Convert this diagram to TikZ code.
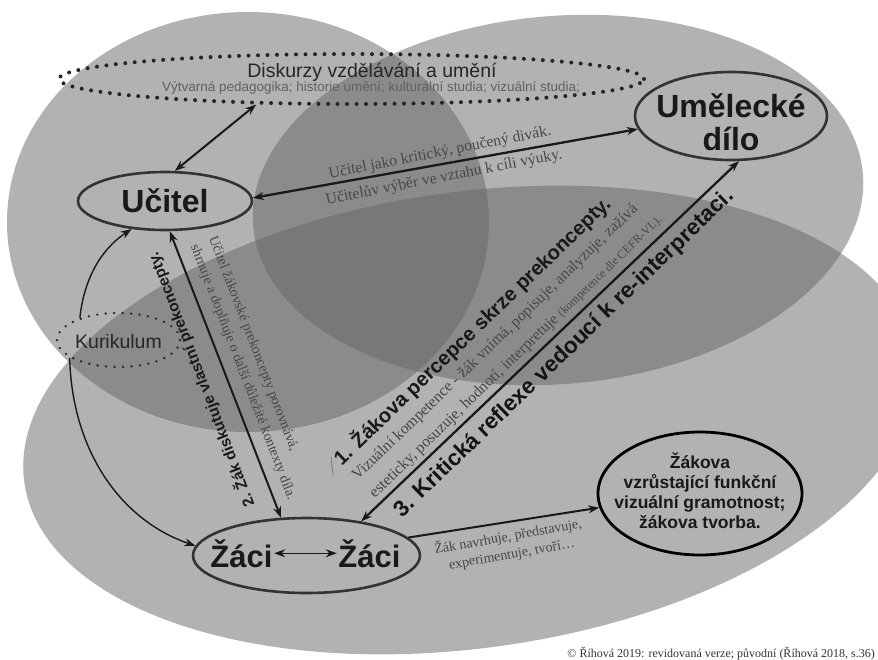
\documentclass[tikz,border=0pt]{standalone}
\usepackage{fontspec}
\setmainfont{Liberation Serif}
\setsansfont{Liberation Sans}
\usetikzlibrary{arrows.meta,shapes.geometric}
\begin{document}
\begin{tikzpicture}[x=1pt,y=-1pt,
  blob/.style={fill=black!60, fill opacity=0.5},
  nodeell/.style={ellipse, draw=black!80, line width=2.6pt, inner sep=0pt},
  dotell/.style={ellipse, draw=black!85, inner sep=0pt, line cap=round, dash pattern=on 0pt off 9.5pt, line width=4pt},
  txt/.style={inner sep=0pt},
  sansbig/.style={txt, anchor=base, text=black!90, font=\sffamily\bfseries\fontsize{32}{32}\selectfont},
  sansmid/.style={txt, anchor=base, text=black!90, font=\sffamily\bfseries\fontsize{17.5}{18}\selectfont},
  serl/.style={txt, text=black!72},
  con/.style={draw=black!90, line width=2pt},
  thincon/.style={draw=black!90, line width=1.4pt},
  onehead/.style={-{Stealth[length=11pt,width=8pt]}},
  twohead/.style={{Stealth[length=11pt,width=8pt]}-{Stealth[length=11pt,width=8pt]}}
]
\useasboundingbox (0,0) rectangle (878,659);
\begin{scope}
  \clip (0,0) rectangle (878,659);
  \fill[white] (0,0) rectangle (878,659);
  \begin{scope}[shift={(248,222)}]
    \fill[blob] (0,0) ellipse [x radius=241pt, y radius=210pt];
  \end{scope}
  \begin{scope}[shift={(558,200)}, rotate=5]
    \fill[blob] (0,0) ellipse [x radius=306pt, y radius=184pt];
  \end{scope}
  \begin{scope}[shift={(470,420)}, rotate=8]
    \fill[blob] (0,0) ellipse [x radius=450pt, y radius=228pt];
  \end{scope}
\end{scope}

% node outlines
\node[dotell, minimum width=585pt, minimum height=50pt] (disk) at (351.5,79) {};
\node[dotell, line width=2.6pt, dash pattern=on 0pt off 8.5pt, minimum width=123pt, minimum height=54pt] (kur) at (118.5,340) {};
\node[nodeell, minimum width=174pt, minimum height=58pt] (ucitel) at (165,201) {};
\node[nodeell, minimum width=192pt, minimum height=88pt] (umel) at (731,116) {};
\node[nodeell, minimum width=227pt, minimum height=75pt] (zaci) at (306.5,555.5) {};
\node[nodeell, draw=black, line width=2.8pt, minimum width=204pt, minimum height=123pt] (zakova) at (700,493.5) {};

% node texts
\node[txt, anchor=base, text=black!85, font=\sffamily\fontsize{19.5}{20}\selectfont] (tdisk1) at (372,77) {Diskurzy vzdělávání a umění};
\node[txt, anchor=base, text=black!62, font=\sffamily\fontsize{13.5}{14}\selectfont] (tdisk2) at (371,91) {Výtvarná pedagogika; historie umění; kulturální studia; vizuální studia;};
\node[txt, anchor=base, text=black!85, font=\sffamily\fontsize{19.5}{20}\selectfont] (tkur) at (118.5,348) {Kurikulum};
\node[sansbig] (tucitel) at (165,212) {Učitel};
\node[sansbig] (tumel1) at (731,117) {Umělecké};
\node[sansbig] (tumel2) at (731,150) {dílo};
\node[sansbig, font=\sffamily\bfseries\fontsize{31}{31}\selectfont, inner sep=1.5pt] (zaci1) at (241.5,567) {Žáci};
\node[sansbig, font=\sffamily\bfseries\fontsize{31}{31}\selectfont, inner sep=1.5pt] (zaci2) at (369.5,567) {Žáci};
\node[sansmid] (tz1) at (700,468) {Žákova};
\node[sansmid] (tz2) at (700,488) {vzrůstající funkční};
\node[sansmid] (tz3) at (700,508) {vizuální gramotnost;};
\node[sansmid] (tz4) at (700,528) {žákova tvorba.};

% connectors
\draw[con, twohead] (ucitel.72) -- (disk.-165);
\draw[con, twohead, line width=2.3pt] (ucitel.2) -- (umel.-172);
\draw[con, twohead] (ucitel.-81) -- (zaci.124);
\draw[con, twohead, line width=2.3pt] (zaci.32) -- (umel.-80);
\draw[con, onehead] (zaci.10) -- (zakova.-172);
\draw[thincon, onehead] (kur.150) .. controls (84,280) and (100,250) .. (ucitel.-140);
\draw[thincon, onehead] (kur.-160) .. controls (72,450) and (120,520) .. (zaci.175);
\draw[thincon, twohead] (zaci1) -- (zaci2);

% labels
\node[serl, rotate=11, font=\fontsize{15.7}{16}\selectfont] (l1) at (440,153) {Učitel jako kritický, poučený divák.};
\node[serl, rotate=11, font=\fontsize{15.7}{16}\selectfont] (l2) at (444,177.5) {Učitelův výběr ve vztahu k cíli výuky.};
\node[txt, rotate=111, text=black!90, font=\sffamily\bfseries\fontsize{15.5}{16}\selectfont] (l2b) at (201,380) {2. Žák diskutuje vlastní prekoncepty.};
\node[serl, rotate=-69, anchor=west, font=\fontsize{14}{14}\selectfont] (l3) at (212,237) {Učitel žákovské prekoncepty porovnává,};
\node[serl, rotate=-69, anchor=west, font=\fontsize{14}{14}\selectfont] (l4) at (194,245) {shrnuje a doplňuje o další důležité kontexty díla.};
\node[txt, rotate=44, anchor=west, text=black!90, font=\sffamily\bfseries\fontsize{20.2}{21}\selectfont] (h1) at (336.9,461.4) {1. Žákova percepce skrze prekoncepty.};
\node[serl, rotate=44, anchor=west, font=\fontsize{15.8}{16}\selectfont] (s1) at (354.8,478.4) {Vizuální kompetence - žák vnímá, popisuje, analyzuje, zažívá};
\node[serl, rotate=44, anchor=west, font=\fontsize{15.8}{16}\selectfont] (s2) at (372.2,495.6) {esteticky, posuzuje, hodnotí, interpretuje {\fontsize{12}{12}\selectfont(kompetence dle CEFR-VL).}};
\node[txt, rotate=44, anchor=west, text=black!92, font=\sffamily\bfseries\fontsize{22.5}{23}\selectfont] (h3) at (398,514.4) {3. Kritická reflexe vedoucí k re-interpretaci.};
\node[serl, rotate=10, font=\fontsize{14}{14}\selectfont] (l5) at (508,536.5) {Žák navrhuje, představuje,};
\node[serl, rotate=10, font=\fontsize{14}{14}\selectfont] (l6) at (512,555) {experimentuje, tvoří…};
\coordinate (m1) at (331,457);
\coordinate (m2) at (333,475);
\draw[black!55, line width=0.7pt] (m1) -- (m2);
\node[serl, anchor=base east, text=black!80, font=\fontsize{12}{12}\selectfont] (copy) at (875,657) {© Říhová 2019: revidovaná verze; původní (Říhová 2018, s.36)};
\end{tikzpicture}
\end{document}
